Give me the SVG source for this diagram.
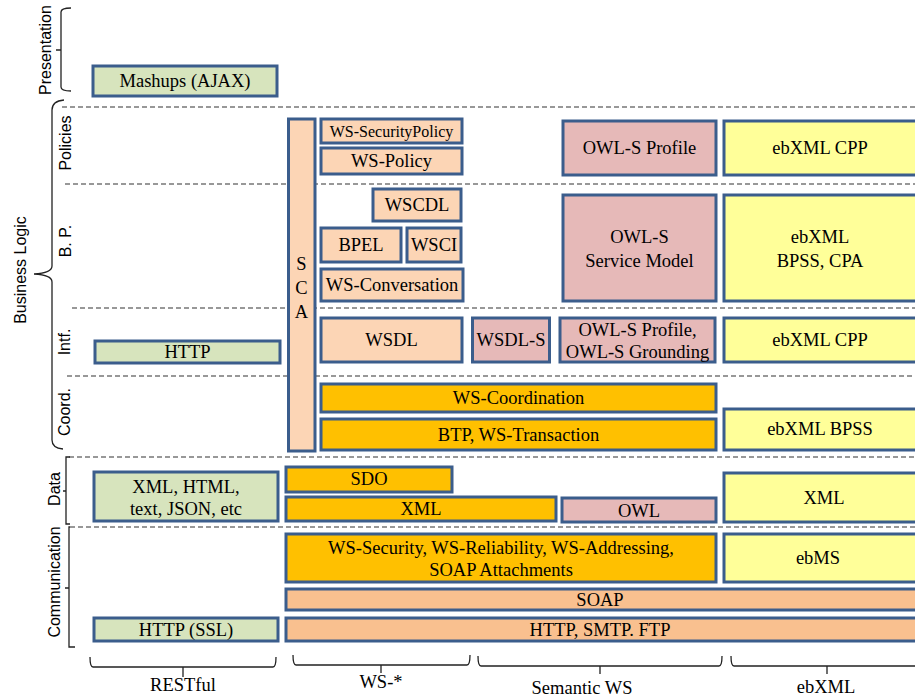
<svg xmlns="http://www.w3.org/2000/svg" width="915" height="700" viewBox="0 0 915 700">
<style>
.b{stroke:#3b5d8c;stroke-width:3}
.g{fill:#d7e4bd}.p{fill:#fcd5b5}.k{fill:#e6b9b8}.y{fill:#ffff99}.o{fill:#ffc000}.s{fill:#f9c08f}
.t{font-family:"Liberation Serif","Times New Roman",serif;font-size:18.5px;fill:#000;text-anchor:middle;dominant-baseline:central}
.sm{font-size:16px}
.l{font-family:"Liberation Sans",Arial,sans-serif;font-size:16px;fill:#000;text-anchor:middle;dominant-baseline:central}
.d{stroke:#333;stroke-width:1.2;stroke-dasharray:5 3;fill:none}
.br{stroke:#222;stroke-width:1.3;fill:none}
</style>
<rect width="915" height="700" fill="#fff"/>
<g id="separators">
<line class="d" x1="62" y1="107" x2="915" y2="107"/>
<line class="d" x1="65" y1="184" x2="915" y2="184"/>
<line class="d" x1="72" y1="308" x2="915" y2="308"/>
<line class="d" x1="67" y1="376" x2="915" y2="376"/>
<line class="d" x1="69" y1="457" x2="915" y2="457"/>
<line class="d" x1="70" y1="527" x2="915" y2="527"/>
</g>
<g id="braces">
<path class="br" d="M71,8 Q61,8 61,12 L61,50 M61,50 L56,50 M61,50 L61,87 Q61,91 71,91"/>
<path class="br" d="M64,100 Q52,101 52,110 L52,266 Q52,273 34,274 Q52,275 52,282 L52,440 Q52,448 63,449"/>
<path class="br" d="M70,457 L66,457 L66,524 L70,524 M66,491 L63,491"/>
<path class="br" d="M70,527 L69,527 L69,647 L75,647 M69,588 L65,588"/>
<path class="br" d="M90,657 Q90,667 93,667 L183,667 L183,677 M183,667 L273,667 Q276,667 276,657"/>
<path class="br" d="M293,655 Q293,665 296,665 L381,665 L381,673 M381,665 L467,665 Q470,665 470,655"/>
<path class="br" d="M478,656 Q478,666 481,666 L600,666 L600,674 M600,666 L719,666 Q722,666 722,656"/>
<path class="br" d="M731,656 Q731,666 734,666 L827,666 L827,674 M827,666 L915,666"/>
</g>
<g id="axis-labels">
<text class="l" transform="translate(45,50) rotate(-90)">Presentation</text>
<text class="l" transform="translate(20,270) rotate(-90)">Business Logic</text>
<text class="l" transform="translate(65,143) rotate(-90)">Policies</text>
<text class="l" transform="translate(65,241) rotate(-90)">B. P.</text>
<text class="l" transform="translate(64,342) rotate(-90)">Intf.</text>
<text class="l" transform="translate(64,412) rotate(-90)">Coord.</text>
<text class="l" transform="translate(54,489) rotate(-90)">Data</text>
<text class="l" transform="translate(54,582) rotate(-90)">Communication</text>
<text class="t" x="183" y="685">RESTful</text>
<text class="t" x="381" y="682">WS-*</text>
<text class="t" x="582" y="688">Semantic WS</text>
<text class="t" x="826" y="687">ebXML</text>
</g>
<g id="mashups"><rect class="b g" x="93" y="66" width="184" height="30"/><text class="t" x="185" y="81">Mashups (AJAX)</text></g>
<g id="sca"><rect class="b p" x="288.5" y="119" width="26.5" height="332"/><text class="t" x="301.5" y="264">S</text><text class="t" x="301.5" y="288">C</text><text class="t" x="301.5" y="312">A</text></g>
<g id="ws-securitypolicy"><rect class="b p" x="321" y="119" width="141" height="24"/><text class="t sm" x="391.5" y="131">WS-SecurityPolicy</text></g>
<g id="ws-policy"><rect class="b p" x="321" y="148" width="141" height="26"/><text class="t" x="391.5" y="161">WS-Policy</text></g>
<g id="owls-profile"><rect class="b k" x="563" y="121" width="153" height="54"/><text class="t" x="639.5" y="148">OWL-S Profile</text></g>
<g id="ebxml-cpp-1"><rect class="b y" x="724" y="121" width="195" height="54"/><text class="t" x="820" y="148">ebXML CPP</text></g>
<g id="wscdl"><rect class="b p" x="373" y="189" width="88" height="32"/><text class="t" x="417" y="205">WSCDL</text></g>
<g id="bpel"><rect class="b p" x="321" y="228" width="80" height="34"/><text class="t" x="361" y="245">BPEL</text></g>
<g id="wsci"><rect class="b p" x="407" y="228" width="54" height="34"/><text class="t" x="434" y="245">WSCI</text></g>
<g id="ws-conversation"><rect class="b p" x="321" y="269" width="142" height="32"/><text class="t" x="392" y="285">WS-Conversation</text></g>
<g id="owls-service-model"><rect class="b k" x="563" y="195" width="153" height="106"/><text class="t" x="639.5" y="237">OWL-S</text><text class="t" x="639.5" y="261">Service Model</text></g>
<g id="ebxml-bpss-cpa"><rect class="b y" x="724" y="195" width="195" height="106"/><text class="t" x="820" y="237">ebXML</text><text class="t" x="820" y="261">BPSS, CPA</text></g>
<g id="http"><rect class="b g" x="95" y="341" width="185" height="22"/><text class="t" x="187.5" y="352">HTTP</text></g>
<g id="wsdl"><rect class="b p" x="321" y="318" width="141" height="44"/><text class="t" x="391.5" y="340">WSDL</text></g>
<g id="wsdl-s"><rect class="b k" x="472.5" y="318" width="77" height="44"/><text class="t" x="511" y="340">WSDL-S</text></g>
<g id="owls-grounding"><rect class="b k" x="560" y="318" width="155" height="44"/><text class="t" x="637.5" y="330">OWL-S Profile,</text><text class="t" x="637.5" y="352">OWL-S Grounding</text></g>
<g id="ebxml-cpp-2"><rect class="b y" x="724" y="318" width="195" height="44"/><text class="t" x="820" y="340">ebXML CPP</text></g>
<g id="ws-coordination"><rect class="b o" x="321" y="384" width="395" height="28"/><text class="t" x="518.5" y="398">WS-Coordination</text></g>
<g id="btp"><rect class="b o" x="321" y="419" width="395" height="31"/><text class="t" x="518.5" y="435">BTP, WS-Transaction</text></g>
<g id="ebxml-bpss"><rect class="b y" x="724" y="409" width="195" height="41"/><text class="t" x="820" y="429">ebXML BPSS</text></g>
<g id="xml-html"><rect class="b g" x="94" y="472" width="184" height="49"/><text class="t" x="186" y="487">XML, HTML,</text><text class="t" x="186" y="509">text, JSON, etc</text></g>
<g id="sdo"><rect class="b o" x="286" y="467" width="166" height="25"/><text class="t" x="369" y="479">SDO</text></g>
<g id="xml-ws"><rect class="b o" x="286" y="497" width="270" height="24"/><text class="t" x="421" y="509">XML</text></g>
<g id="owl"><rect class="b k" x="562" y="498" width="154" height="24"/><text class="t" x="639" y="511">OWL</text></g>
<g id="xml-ebxml"><rect class="b y" x="724" y="473" width="195" height="49"/><text class="t" x="824" y="498">XML</text></g>
<g id="ws-security"><rect class="b o" x="286" y="534" width="430" height="48"/><text class="t" x="501" y="548">WS-Security, WS-Reliability, WS-Addressing,</text><text class="t" x="501" y="570">SOAP Attachments</text></g>
<g id="ebms"><rect class="b y" x="724" y="534" width="195" height="48"/><text class="t" x="818" y="558">ebMS</text></g>
<g id="soap"><rect class="b s" x="286" y="589" width="633" height="21"/><text class="t" x="600" y="600">SOAP</text></g>
<g id="http-smtp-ftp"><rect class="b s" x="286" y="618" width="633" height="23"/><text class="t" x="600" y="630">HTTP, SMTP. FTP</text></g>
<g id="http-ssl"><rect class="b g" x="94" y="618" width="184" height="23"/><text class="t" x="186" y="630">HTTP (SSL)</text></g>
</svg>
